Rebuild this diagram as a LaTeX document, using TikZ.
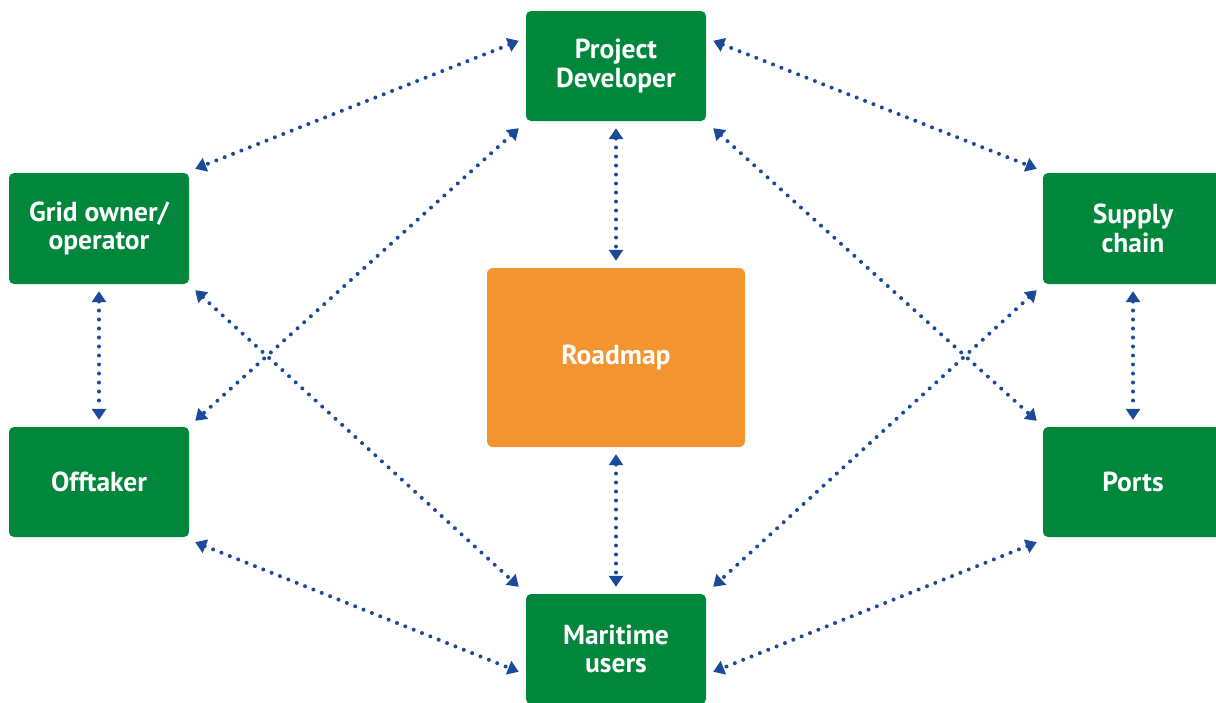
\documentclass[tikz,border=0pt]{standalone}
\usepackage{fontspec}
\setmainfont{PT Sans}
\usetikzlibrary{arrows.meta,calc}
\definecolor{boxgreen}{RGB}{0,135,60}
\definecolor{boxorange}{RGB}{242,149,48}
\definecolor{linkblue}{RGB}{26,74,154}
\tikzset{
  greenbox/.style={fill=boxgreen, rounded corners=5pt, minimum width=180pt, minimum height=110pt,
    inner sep=0pt, text=white, align=center, font=\fontsize{27.5}{28.5}\selectfont\bfseries},
  orangebox/.style={fill=boxorange, rounded corners=6pt, minimum width=258pt, minimum height=179pt,
    inner sep=0pt, text=white, align=center, font=\fontsize{27.5}{28.5}\selectfont\bfseries},
  link/.style={draw=linkblue, line width=4pt, line cap=round, dash pattern=on 0pt off 9pt,
    {Triangle[width=14pt,length=11pt,fill=linkblue]}-{Triangle[width=14pt,length=11pt,fill=linkblue]}}
}
\begin{document}
\begin{tikzpicture}[x=1pt,y=-1pt]
\useasboundingbox (0,0) rectangle (1216,702);
\node[greenbox] (pd) at (616,66) {Project\\Developer};
\node[greenbox, minimum height=111pt] (grid) at (99,228.5) {Grid owner/\\operator};
\node[greenbox] (off) at (99,482) {Offtaker};
\node[greenbox, minimum height=111pt] (sup) at (1133,228.5) {Supply\\chain};
\node[greenbox] (ports) at (1133,482) {Ports};
\node[greenbox] (mar) at (616,649) {Maritime\\users};
\node[orangebox] (road) at (616,357.5) {Roadmap};

\draw[link] ($(pd.north west)+(-7,30)$) -- ($(grid.north east)+(6,-4)$);
\draw[link] ($(pd.north east)+(7,30)$) -- ($(sup.north west)+(-6,-4)$);
\draw[link] ($(pd.south)+(0,7)$) -- ($(road.north)+(0,-7)$);
\draw[link] ($(pd.south west)+(-7,7)$) -- ($(off.north east)+(6,-6)$);
\draw[link] ($(pd.south east)+(7,7)$) -- ($(ports.north west)+(-6,-6)$);
\draw[link] ($(grid.south)+(0,7)$) -- ($(off.north)+(0,-7)$);
\draw[link] ($(sup.south)+(0,7)$) -- ($(ports.north)+(0,-7)$);
\draw[link] ($(grid.south east)+(6,6)$) -- ($(mar.north west)+(-7,-7)$);
\draw[link] ($(sup.south west)+(-6,6)$) -- ($(mar.north east)+(7,-7)$);
\draw[link] ($(off.south east)+(6,5)$) -- ($(mar.north west)+(-7,78)$);
\draw[link] ($(ports.south west)+(-6,5)$) -- ($(mar.north east)+(7,78)$);
\draw[link] ($(road.south)+(0,7)$) -- ($(mar.north)+(0,-7)$);
\end{tikzpicture}
\end{document}
